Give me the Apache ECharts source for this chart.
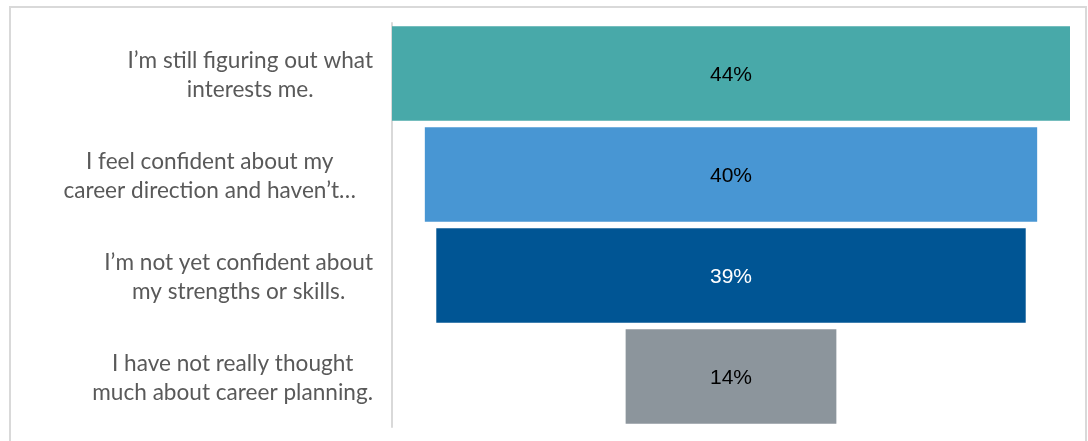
<!DOCTYPE html>
<html>
<head>
<meta charset="utf-8">
<script src="https://cdn.jsdelivr.net/npm/echarts@6/dist/echarts.min.js"></script>
<style>
  html, body { margin: 0; padding: 0; background: #ffffff; }
  #chart { width: 1088px; height: 441px; }
</style>
</head>
<body>
<div id="chart"></div>
<script>
// ---- data ----
const categories = [
  "I\u2019m still figuring out what\ninterests me.",
  "I feel confident about my\ncareer direction and haven\u2019t\u2026",
  "I\u2019m not yet confident about\nmy strengths or skills.",
  "I have not really thought\nmuch about career planning."
];
const values = [44.4, 40.1, 38.6, 13.8];
const barColors = ["#48A9A9", "#4896D3", "#005594", "#8C959C"];
const labelColors = ["#000000", "#000000", "#ffffff", "#000000"];

const maxVal = Math.max.apply(null, values);
const offsets = values.map(v => (maxVal - v) / 2);

const chart = echarts.init(document.getElementById('chart'), null, { renderer: 'canvas' });

chart.setOption({
  animation: false,
  backgroundColor: '#ffffff',
  graphic: [{
    type: 'rect',
    shape: { x: 10, y: 7, width: 1076, height: 460 },
    style: { fill: 'none', stroke: '#d9d9d9', lineWidth: 2 },
    silent: true, z: -1
  }],
  grid: { left: 392, right: 18, top: 23, bottom: 14, containLabel: false },
  xAxis: {
    type: 'value', min: 0, max: maxVal, show: false
  },
  yAxis: {
    type: 'category',
    inverse: true,
    data: categories,
    axisLine: { show: true, lineStyle: { color: '#d9d9d9', width: 2 } },
    axisTick: { show: false },
    splitLine: { show: false },
    axisLabel: {
      margin: 19,
      align: 'right',
      padding: [4, 0, 0, 0],
      formatter: function (value, idx) {
        const style = idx === 1 ? 'cp' : 'c';
        return value.split('\n').map(l => '{' + style + '|' + l + '}').join('\n');
      },
      rich: {
        c: { align: 'center', fontFamily: 'Lato', fontSize: 22.6, color: '#595959', lineHeight: 29 },
        cp: { align: 'center', fontFamily: 'Lato', fontSize: 22.6, color: '#595959', lineHeight: 29, padding: [0, 17, 0, 0] }
      }
    }
  },
  series: [
    {
      type: 'bar', stack: 'f', data: offsets,
      itemStyle: { color: 'transparent' },
      barCategoryGap: '6.3%',
      silent: true
    },
    {
      type: 'bar', stack: 'f',
      data: values.map((v, i) => ({
        value: v,
        itemStyle: { color: barColors[i] },
        label: { color: labelColors[i] }
      })),
      barCategoryGap: '6.3%',
      label: {
        show: true, position: 'inside', offset: [0, 2],
        fontFamily: 'Liberation Sans', fontSize: 21,
        formatter: p => Math.round(p.value) + '%'
      }
    }
  ]
});
</script>
</body>
</html>
